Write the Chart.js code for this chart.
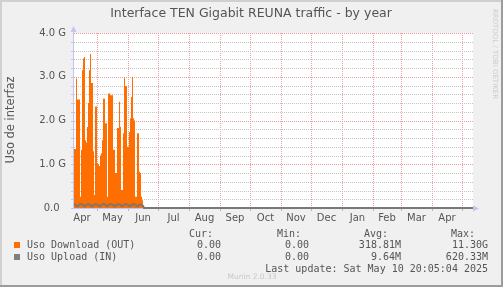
<!DOCTYPE html>
<html>
<head>
<meta charset="utf-8">
<script src="https://cdn.jsdelivr.net/npm/chart.js@4/dist/chart.umd.min.js"></script>
<style>
  html, body { margin: 0; padding: 0; background: #f0f0f0; }
  canvas { display: block; }
</style>
</head>
<body>
<canvas id="myChart" width="503" height="287"></canvas>
<script>
// day offsets counted from 2024-04-07 (left edge of the plot), 400 days shown
const monthLabels = ["Apr", "May", "Jun", "Jul", "Aug", "Sep", "Oct", "Nov", "Dec", "Jan", "Feb", "Mar", "Apr"];
const monthStarts = [-6, 24, 55, 85, 116, 147, 177, 208, 238, 269, 300, 328, 359, 389];
const lastDay = 400;

// y grid: labelled lines every 1 G, minor lines every 0.2 G
const yMajor = [0, 1, 2, 3, 4];
const yMinorStep = 0.2;

// daily values in Gbit/s, one per day from day 0
const download = [1.30, 1.32, 1.35, 1.35, 2.96, 2.48, 2.48, 2.48, 0.26, 1.33,
  3.15, 3.42, 3.45, 1.55, 1.50, 1.85, 2.40, 3.15, 3.52, 2.86,
  2.86, 1.30, 0.30, 2.32, 2.32, 1.03, 1.00, 0.96, 1.20, 1.25,
  1.55, 2.50, 2.50, 1.94, 1.94, 0.26, 2.62, 2.62, 2.58, 2.58,
  2.58, 1.33, 1.33, 0.80, 0.80, 1.83, 1.83, 2.43, 1.86, 0.41,
  0.41, 1.71, 2.97, 2.79, 2.79, 1.40, 1.40, 1.74, 2.05, 2.54,
  3.00, 2.05, 2.00, 0.26, 0.26, 1.71, 1.71, 0.83, 0.80, 0.26,
  0.18, 0];
const upload = [0.07, 0.08, 0.08, 0.06, 0.04, 0.04, 0.07, 0.09, 0.09, 0.08,
  0.07, 0.05, 0.04, 0.06, 0.08, 0.09, 0.08, 0.08, 0.06, 0.04,
  0.05, 0.07, 0.09, 0.08, 0.08, 0.07, 0.05, 0.04, 0.06, 0.08,
  0.09, 0.09, 0.08, 0.06, 0.04, 0.05, 0.08, 0.09, 0.08, 0.08,
  0.07, 0.05, 0.04, 0.06, 0.08, 0.09, 0.08, 0.08, 0.06, 0.04,
  0.05, 0.07, 0.09, 0.09, 0.08, 0.07, 0.05, 0.04, 0.06, 0.08,
  0.09, 0.08, 0.08, 0.06, 0.04, 0.05, 0.07, 0.08, 0.07, 0.06,
  0.05, 0];

const legendNames = ["Uso Download (OUT)", "Uso Upload (IN)"];
const legendColors = ["#ff6e00", "#7f7f7f"];
const curVals = ["0.00", "0.00"];
const minVals = ["0.00", "0.00"];
const avgVals = ["318.81M", "9.64M"];
const maxVals = ["11.30G", "620.33M"];

const toPoints = (arr) => {
  let pts = arr.map((v, i) => ({ x: i, y: v }));
  pts.push({ x: lastDay, y: 0 });
  return pts;
};

const MAJOR = "#ef9f9f";
const MINOR = "#c4c4c4";
const AXIS = "#c4c4f0";
const TXT = "#555";

// dotted horizontal line drawn pixel by pixel so it stays crisp
const dotRow = (c, x0, x1, py, col) => {
  c.fillStyle = col;
  for (let x = x0; x < x1; x += 2) c.fillRect(x, py, 1, 1);
};

const munin = {
  id: "munin",
  beforeDraw(chart) {
    const c = chart.ctx, a = chart.chartArea;
    c.save();
    c.fillStyle = "#f0f0f0";
    c.fillRect(0, 0, chart.width, chart.height);
    c.fillStyle = "#ffffff";
    c.fillRect(a.left, a.top, a.right - a.left, a.bottom - a.top);
    c.restore();
  },
  beforeDatasetsDraw(chart) {
    const c = chart.ctx, a = chart.chartArea, ys = chart.scales.y;
    c.save();
    const x0 = Math.round(a.left), x1 = Math.round(a.right);
    for (let k = 0; k < yMajor.length - 1; k++) {
      for (let j = 1; j < 5; j++) {
        dotRow(c, x0 + 1, x1, Math.round(ys.getPixelForValue(yMajor[k] + j * yMinorStep)), MINOR);
      }
    }
    yMajor.forEach((v) => {
      if (v > 0) dotRow(c, x0 + 1, x1, Math.round(ys.getPixelForValue(v)), MAJOR);
    });
    // small ticks on the y axis
    c.fillStyle = AXIS;
    for (let k = 0; k < yMajor.length - 1; k++) {
      for (let j = 0; j < 5; j++) {
        c.fillRect(x0 - 2, Math.round(ys.getPixelForValue(yMajor[k] + j * yMinorStep)), 2, 1);
      }
    }
    // x axis line
    c.fillRect(x0, Math.round(a.bottom), x1 - x0, 1);
    c.restore();
  },
  afterDatasetsDraw(chart) {
    const c = chart.ctx, a = chart.chartArea;
    c.save();
    // y axis with arrow
    c.strokeStyle = AXIS;
    c.lineWidth = 1;
    c.beginPath();
    c.moveTo(a.left + 0.5, a.bottom);
    c.lineTo(a.left + 0.5, a.top - 3);
    c.stroke();
    c.fillStyle = AXIS;
    c.beginPath();
    c.moveTo(a.left - 2.5, a.top - 1);
    c.lineTo(a.left + 3.5, a.top - 1);
    c.lineTo(a.left + 0.5, a.top - 7);
    c.closePath();
    c.fill();
    // x axis arrow
    c.beginPath();
    c.moveTo(a.right, a.bottom - 2.5);
    c.lineTo(a.right, a.bottom + 3.5);
    c.lineTo(a.right + 6, a.bottom + 0.5);
    c.closePath();
    c.fill();
    c.restore();
  },
  afterDraw(chart) {
    const c = chart.ctx;
    c.save();
    // title
    c.fillStyle = TXT;
    c.font = '12.5px "DejaVu Sans"';
    c.textAlign = "center";
    c.textBaseline = "middle";
    c.fillText("Interface TEN Gigabit REUNA traffic - by year", 251, 14);
    // y axis title
    c.save();
    c.translate(11, 120);
    c.rotate(-Math.PI / 2);
    c.font = '11.5px "DejaVu Sans"';
    c.fillText("Uso de interfaz", 0, 0);
    c.restore();
    // watermark
    c.save();
    c.translate(495, 54);
    c.rotate(Math.PI / 2);
    c.fillStyle = "#cccccc";
    c.font = '7px "DejaVu Sans"';
    c.fillText("RRDTOOL / TOBI OETIKER", 0, 0);
    c.restore();
    // legend
    c.font = '10px "DejaVu Sans Mono"';
    c.textAlign = "right";
    c.fillText("Cur:", 213, 234);
    c.fillText("Min:", 301, 234);
    c.fillText("Avg:", 388, 234);
    c.fillText("Max:", 475, 234);
    legendNames.forEach((name, i) => {
      const y = 245 + i * 12;
      c.fillStyle = legendColors[i];
      c.fillRect(14, y - 3, 6, 6);
      c.fillStyle = TXT;
      c.textAlign = "left";
      c.fillText(name, 27, y);
      c.textAlign = "right";
      c.fillText(curVals[i], 221, y);
      c.fillText(minVals[i], 309, y);
      c.fillText(avgVals[i], 401, y);
      c.fillText(maxVals[i], 488, y);
    });
    c.fillText("Last update: Sat May 10 20:05:04 2025", 488, 269);
    c.textAlign = "center";
    c.fillStyle = "#c8c8c8";
    c.font = '7.5px "DejaVu Sans"';
    c.fillText("Munin 2.0.33", 252, 277);
    // frame
    c.fillStyle = "#d0d0d0";
    c.fillRect(0, 0, 503, 2);
    c.fillRect(0, 0, 2, 287);
    c.fillStyle = "#9c9c9c";
    c.fillRect(501, 0, 2, 287);
    c.fillRect(0, 285, 503, 2);
    c.restore();
  }
};

let myChart = document.getElementById("myChart").getContext("2d");

let areaChart = new Chart(myChart, {
  type: "line",
  data: {
    datasets: [
      {
        label: legendNames[0],
        data: toPoints(download),
        backgroundColor: legendColors[0],
        borderColor: legendColors[0],
        borderWidth: 0,
        fill: "origin",
        stepped: "after",
        pointRadius: 0,
        order: 2,
      },
      {
        label: legendNames[1],
        data: toPoints(upload),
        borderColor: "#787878",
        borderWidth: 2,
        fill: false,
        pointRadius: 0,
        order: 1,
        clip: { left: 0, top: 0, right: 0, bottom: 2 },
      },
    ],
  },
  options: {
    responsive: false,
    animation: false,
    devicePixelRatio: 1,
    events: [],
    layout: { padding: { top: 33, right: 30, left: 0, bottom: 0 } },
    plugins: { legend: { display: false }, tooltip: { enabled: false } },
    scales: {
      x: {
        type: "linear",
        min: 0,
        max: lastDay,
        afterFit: (s) => { s.height = 79; },
        afterBuildTicks: (s) => {
          let t = [];
          monthStarts.forEach((d, i) => {
            if (d > 0 && d < lastDay) t.push({ value: d, line: true, text: "" });
            if (i < monthLabels.length) {
              t.push({ value: (d + monthStarts[i + 1]) / 2, line: false, text: monthLabels[i] });
            }
          });
          t.sort((p, q) => p.value - q.value);
          s.ticks = t;
        },
        grid: {
          color: MAJOR,
          lineWidth: (ctx) => (ctx.tick && ctx.tick.line ? 1 : 0),
          borderDash: [1, 1],
          drawTicks: true,
          tickLength: 3,
        },
        border: { display: false, dash: [1, 1] },
        ticks: {
          autoSkip: false,
          maxRotation: 0,
          padding: 1,
          color: TXT,
          font: { family: "DejaVu Sans", size: 10 },
          callback: function (v, i, t) { return t[i].text; },
        },
      },
      y: {
        min: 0,
        max: yMajor[yMajor.length - 1],
        afterFit: (s) => { s.width = 73; },
        afterBuildTicks: (s) => {
          s.ticks = yMajor.map((v) => ({ value: v }));
        },
        grid: { display: false, drawTicks: false },
        border: { display: false },
        ticks: {
          autoSkip: false,
          padding: 7,
          color: TXT,
          font: { family: "DejaVu Sans", size: 10 },
          callback: (v) => (v === 0 ? "0.0  " : v.toFixed(1) + " G"),
        },
      },
    },
  },
  plugins: [munin],
});
</script>
</body>
</html>
